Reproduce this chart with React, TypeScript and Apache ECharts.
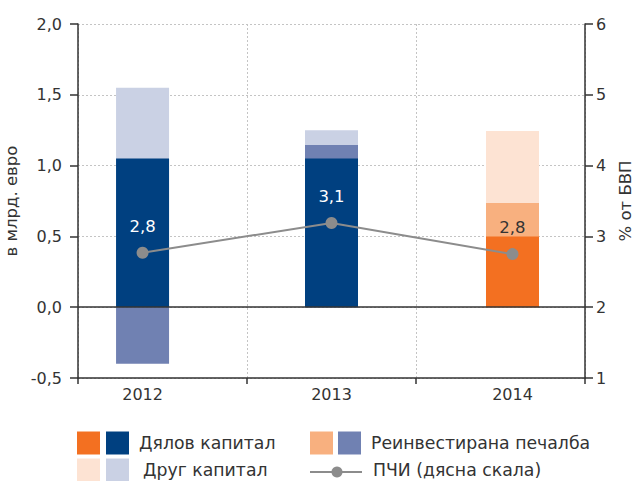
import React, { useEffect, useRef } from "react";
import * as echarts from "echarts";

const years = ["2012", "2013", "2014"];
const equityCapital = [1.05, 1.05, 0.5];
const reinvestedEarnings = [-0.4, 0.095, 0.235];
const otherCapital = [0.5, 0.105, 0.51];
const fdiPct = [2.77, 3.19, 2.75];
const fdiLabels = ["2,8", "3,1", "2,8"];

const leftMin = -0.5, leftMax = 2.0, leftInterval = 0.5;
const rightMin = 1, rightMax = 6, rightInterval = 1;

const seriesNames = ["Дялов капитал", "Реинвестирана печалба", "Друг капитал", "ПЧИ (дясна скала)"];

// layout: where each year's bar sits inside its slot (slot i spans i..i+1)
const slotCenters = [0.382, 1.5, 2.571];

const blueShades = ["#004080", "#7081b2", "#cad1e4"];
const orangeShades = ["#f37021", "#f8b07f", "#fde3d3"];

const FONT = "'DejaVu Sans', sans-serif";
const TXT = "#333333";

export default function App() {
  const ref = useRef<HTMLDivElement>(null);
  useEffect(() => {
    if (!ref.current) return;
    const chart = echarts.init(ref.current, undefined, { renderer: "svg" });
    const colorFor = (layer: number, idx: number) =>
      years[idx] === "2014" ? orangeShades[layer] : blueShades[layer];

    // same-sign stacking: cumulative top of each layer (bars drawn back-to-front, overlapping)
    const layers = [equityCapital, reinvestedEarnings, otherCapital];
    const cumTops = layers.map(() => [] as number[]);
    years.forEach((_, i) => {
      let pos = 0, neg = 0;
      layers.forEach((arr, l) => {
        const v = arr[i];
        if (v >= 0) { pos += v; cumTops[l][i] = pos; } else { neg += v; cumTops[l][i] = neg; }
      });
    });
    const barSeries = (l: number) => ({
      name: seriesNames[l],
      type: "bar",
      barWidth: 53,
      barGap: "-100%",
      data: cumTops[l].map((v, i) => ({ value: [slotCenters[i], v], itemStyle: { color: colorFor(l, i) } })),
    });

    const legendY1 = 443, legendY2 = 470;
    const sq = 23;
    const lf = `17.3px ${FONT}`;
    const legend: any[] = [
      { type: "rect", shape: { x: 77, y: legendY1 - 11.5, width: sq, height: sq }, style: { fill: orangeShades[0] } },
      { type: "rect", shape: { x: 106, y: legendY1 - 11.5, width: sq, height: sq }, style: { fill: blueShades[0] } },
      { type: "text", x: 139, y: legendY1, style: { text: seriesNames[0], fill: TXT, font: lf, textVerticalAlign: "middle" } },
      { type: "rect", shape: { x: 77, y: legendY2 - 11.5, width: sq, height: sq }, style: { fill: orangeShades[2] } },
      { type: "rect", shape: { x: 106, y: legendY2 - 11.5, width: sq, height: sq }, style: { fill: blueShades[2] } },
      { type: "text", x: 143, y: legendY2, style: { text: seriesNames[2], fill: TXT, font: lf, textVerticalAlign: "middle" } },
      { type: "rect", shape: { x: 310, y: legendY1 - 11.5, width: sq, height: sq }, style: { fill: orangeShades[1] } },
      { type: "rect", shape: { x: 338, y: legendY1 - 11.5, width: sq, height: sq }, style: { fill: blueShades[1] } },
      { type: "text", x: 371, y: legendY1, style: { text: seriesNames[1], fill: TXT, font: lf, textVerticalAlign: "middle" } },
      { type: "line", shape: { x1: 310, y1: legendY2 + 2, x2: 362, y2: legendY2 + 2 }, style: { stroke: "#8c8c8c", lineWidth: 2 } },
      { type: "circle", shape: { cx: 337, cy: legendY2 + 2, r: 5.5 }, style: { fill: "#8c8c8c" } },
      { type: "text", x: 373, y: legendY2, style: { text: seriesNames[3], fill: TXT, font: lf, textVerticalAlign: "middle" } },
    ];

    chart.setOption({
      animation: false,
      textStyle: { fontFamily: FONT },
      grid: { left: 78, right: 51, top: 24, bottom: 103, containLabel: false, outerBoundsMode: "none" },
      graphic: legend,
      xAxis: {
        type: "value",
        min: 0,
        max: years.length,
        interval: 1,
        axisLine: { show: true, onZero: false, lineStyle: { color: TXT, width: 1.5 } },
        axisTick: { show: true, length: 6, lineStyle: { color: TXT, width: 1.5 } },
        axisLabel: {
          show: true,
          color: TXT,
          fontSize: 16,
          margin: 8,
          fontFamily: FONT,
          customValues: slotCenters,
          formatter: (v: number) => {
            const i = slotCenters.findIndex((c) => Math.abs(c - v) < 1e-6);
            return i >= 0 ? years[i] : "";
          },
        },
        splitLine: { show: true, lineStyle: { color: "#c4c4c4", type: [2, 2], width: 1 } },
      },
      yAxis: [
        {
          type: "value",
          min: leftMin,
          max: leftMax,
          interval: leftInterval,
          name: "в млрд. евро",
          nameLocation: "middle",
          nameGap: 48,
          nameRotate: 90,
          nameTextStyle: { color: TXT, fontSize: 16.5, fontFamily: FONT },
          axisLine: { show: true, lineStyle: { color: TXT, width: 1.5 } },
          axisTick: { show: true, length: 8, lineStyle: { color: TXT, width: 1.5 } },
          axisLabel: {
            color: TXT, fontSize: 16, margin: 16, fontFamily: FONT,
            formatter: (v: number) => v.toFixed(1).replace(".", ","),
          },
          splitLine: { show: true, lineStyle: { color: "#c4c4c4", type: [2, 2], width: 1 } },
        },
        {
          type: "value",
          min: rightMin,
          max: rightMax,
          interval: rightInterval,
          position: "right",
          name: "% от БВП",
          nameLocation: "middle",
          nameGap: 30,
          nameRotate: 90,
          nameTextStyle: { color: TXT, fontSize: 16.5, fontFamily: FONT },
          axisLine: { show: true, lineStyle: { color: TXT, width: 1.5 } },
          axisTick: { show: true, length: 8, lineStyle: { color: TXT, width: 1.5 } },
          axisLabel: { color: TXT, fontSize: 16, margin: 11, fontFamily: FONT },
          splitLine: { show: false },
        },
      ],
      series: [
        barSeries(2),
        barSeries(1),
        {
          ...barSeries(0),
          markLine: {
            silent: true,
            symbol: "none",
            label: { show: false },
            lineStyle: { color: TXT, type: "solid", width: 1.5 },
            data: [{ yAxis: 0 }],
          },
        },
        {
          name: seriesNames[3],
          type: "line",
          yAxisIndex: 1,
          symbol: "circle",
          symbolSize: 12,
          z: 5,
          lineStyle: { color: "#8c8c8c", width: 2 },
          itemStyle: { color: "#8c8c8c" },
          data: fdiPct.map((v, i) => ({
            value: [slotCenters[i], v],
            label: {
              show: true,
              position: "top",
              distance: 12,
              fontSize: 16.5,
              fontFamily: FONT,
              color: years[i] === "2014" ? TXT : "#ffffff",
              formatter: () => fdiLabels[i],
            },
          })),
        },
      ],
    });
    return () => chart.dispose();
  }, []);
  return <div ref={ref} style={{ width: 636, height: 481, position: "absolute", left: 0, top: 0 }} />;
}
